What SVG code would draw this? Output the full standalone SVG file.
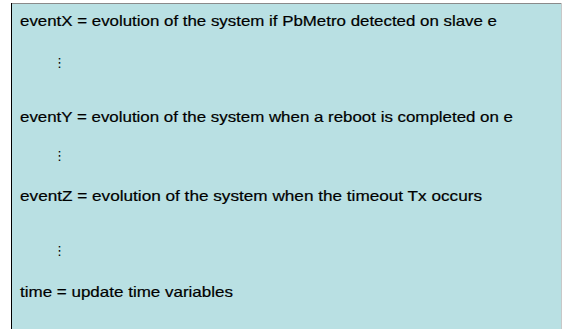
<svg xmlns="http://www.w3.org/2000/svg" width="563" height="329" viewBox="0 0 563 329">
<style>
.t{font-family:"Liberation Sans",Arial,sans-serif;font-size:15px;fill:#000;stroke:#000;stroke-width:0.2}
.d{font-family:"DejaVu Sans",sans-serif;font-size:13px;fill:#000}
</style>
<rect width="563" height="329" fill="#ffffff"/>
<g id="panel">
<rect x="11" y="3" width="550" height="326" fill="#b9e0e3"/>
<line x1="11" y1="3.5" x2="561" y2="3.5" stroke="#8a8a8a" stroke-width="1"/>
<line x1="11.5" y1="3" x2="11.5" y2="329" stroke="#000" stroke-width="1"/>
<line x1="561.5" y1="3" x2="561.5" y2="329" stroke="#c8c8c8" stroke-width="1"/>
</g>
<g id="eventX"><text class="t" x="20" y="26" textLength="477" lengthAdjust="spacingAndGlyphs">eventX = evolution of the system if PbMetro detected on slave e</text></g>
<g id="dots1"><text class="d" x="53" y="67">⋮</text></g>
<g id="eventY"><text class="t" x="20" y="122" textLength="493" lengthAdjust="spacingAndGlyphs">eventY = evolution of the system when a reboot is completed on e</text></g>
<g id="dots2"><text class="d" x="53" y="160">⋮</text></g>
<g id="eventZ"><text class="t" x="20" y="201" textLength="462" lengthAdjust="spacingAndGlyphs">eventZ = evolution of the system when the timeout Tx occurs</text></g>
<g id="dots3"><text class="d" x="53" y="255">⋮</text></g>
<g id="time"><text class="t" x="20" y="297" textLength="213" lengthAdjust="spacingAndGlyphs">time = update time variables</text></g>
<g id="connectors"/>
</svg>
